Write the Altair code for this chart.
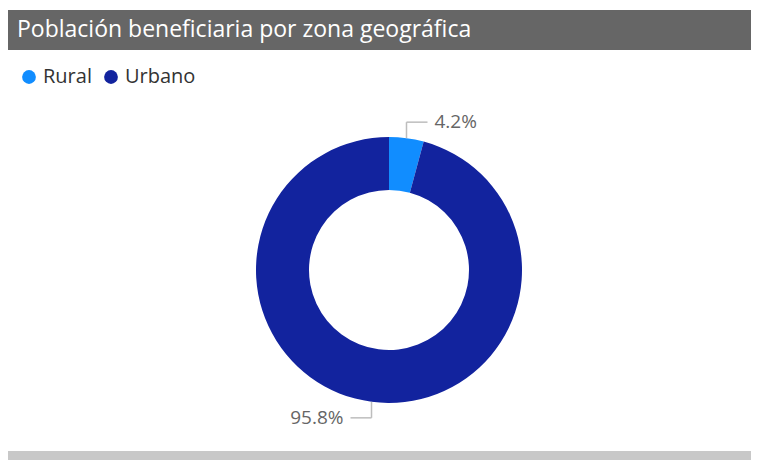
import altair as alt
import pandas as pd

# ---- data ----
zones = ["Rural", "Urbano"]
shares = [4.2, 95.8]
colors = ["#118DFF", "#12239E"]
title_text = "Población beneficiaria por zona geográfica"

df = pd.DataFrame({"zona": zones, "valor": shares, "orden": list(range(len(zones)))})
title_df = pd.DataFrame({"t": [title_text]})

# ---- layout ----
W, H = 743, 452
CX, CY = 381, 262
R_OUT, R_IN = 133, 80
LEAD_V, LEAD_H = 16, 21
FONT = "Open Sans"

base = (
    alt.Chart(df)
    .transform_joinaggregate(total="sum(valor)")
    .transform_window(cum="sum(valor)", sort=[alt.SortField("orden")], frame=[None, 0])
    .transform_calculate(mid="(datum.cum - datum.valor/2)/datum.total*2*PI")
    .transform_calculate(
        sx="sin(datum.mid) >= 0 ? 1 : -1",
        sy="cos(datum.mid) >= 0 ? -1 : 1",
        x0=f"{CX} + {R_OUT}*sin(datum.mid)",
        y0=f"{CY} - {R_OUT}*cos(datum.mid)",
    )
    .transform_calculate(
        y1=f"datum.y0 + datum.sy*{LEAD_V}",
        x1=f"datum.x0 + datum.sx*{LEAD_H}",
        tx=f"datum.x0 + datum.sx*({LEAD_H}+7)",
        lab="format(datum.valor, '.1f') + '%'",
    )
)

arc = base.mark_arc(innerRadius=R_IN, outerRadius=R_OUT).encode(
    theta=alt.Theta("valor:Q", stack=True),
    color=alt.Color(
        "zona:N",
        scale=alt.Scale(domain=zones, range=colors),
        legend=alt.Legend(
            orient="none",
            legendX=11,
            legendY=59,
            direction="horizontal",
            title=None,
            symbolType="circle",
            symbolSize=190,
            symbolStrokeWidth=0,
            labelFontSize=20,
            labelFont=FONT,
            labelColor="#333333",
            labelOffset=4,
            columnPadding=9,
            padding=0,
        ),
    ),
    order=alt.Order("orden:Q"),
    x=alt.value(CX),
    y=alt.value(CY),
)

LINE = "#BDBDBD"
vline = base.mark_rule(color=LINE, strokeWidth=1.5).encode(
    x=alt.X("x0:Q", scale=None, axis=None),
    y=alt.Y("y0:Q", scale=None, axis=None),
    y2="y1:Q",
)
hline = base.mark_rule(color=LINE, strokeWidth=1.5).encode(
    x=alt.X("x0:Q", scale=None, axis=None),
    x2="x1:Q",
    y=alt.Y("y1:Q", scale=None, axis=None),
)
text_r = base.transform_filter("datum.sx > 0").mark_text(
    align="left", baseline="middle", font=FONT, fontSize=19, color="#666666"
).encode(
    x=alt.X("tx:Q", scale=None, axis=None),
    y=alt.Y("y1:Q", scale=None, axis=None),
    text="lab:N",
)
text_l = base.transform_filter("datum.sx < 0").mark_text(
    align="right", baseline="middle", font=FONT, fontSize=19, color="#666666"
).encode(
    x=alt.X("tx:Q", scale=None, axis=None),
    y=alt.Y("y1:Q", scale=None, axis=None),
    text="lab:N",
)

title_bar = alt.Chart(title_df).mark_rect(color="#666666").encode(
    x=alt.value(0), x2=alt.value(W), y=alt.value(2), y2=alt.value(42)
)
title_txt = alt.Chart(title_df).mark_text(
    align="left", baseline="middle", font=FONT, fontSize=23, color="#FFFFFF"
).encode(x=alt.value(9), y=alt.value(22), text="t:N")

bottom = alt.Chart(title_df).mark_rect(color="#C8C8C8").encode(
    x=alt.value(0), x2=alt.value(W), y=alt.value(443), y2=alt.value(H)
)

chart = (
    alt.layer(title_bar, title_txt, bottom, arc, vline, hline, text_r, text_l)
    .properties(width=W, height=H, autosize=alt.AutoSizeParams(type="none"), padding=0, background="#FFFFFF")
    .configure_view(strokeWidth=0)
)

chart.save("out.html", embed_options={"renderer": "svg", "actions": False})
